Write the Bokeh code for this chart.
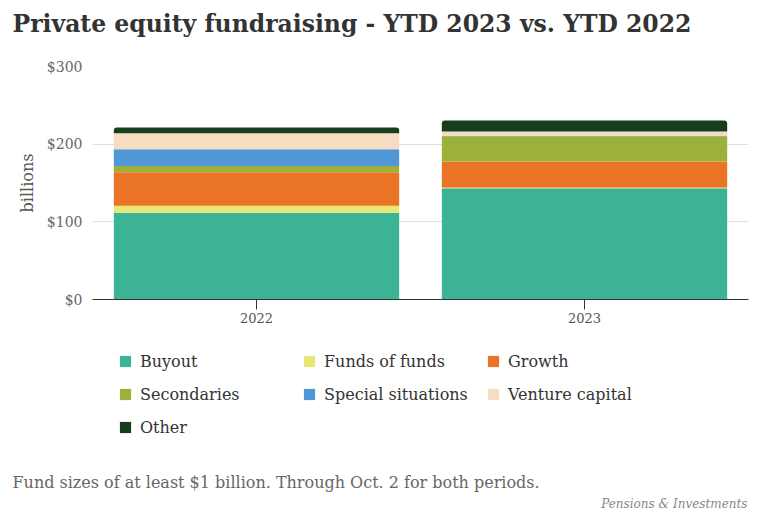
from bokeh.plotting import figure
from bokeh.layouts import column
from bokeh.models import (ColumnDataSource, Legend, LegendItem, Title,
                          NumeralTickFormatter, FixedTicker)
from bokeh.embed import file_html
from bokeh.resources import INLINE

years = ["2022", "2023"]
categories = ["Buyout", "Funds of funds", "Growth", "Secondaries",
              "Special situations", "Venture capital", "Other"]
buyout = [111.6, 143.2]
funds_of_funds = [9.0, 0.9]
growth = [43.2, 33.5]
secondaries = [8.2, 32.6]
special_situations = [21.6, 0.6]
venture_capital = [20.3, 5.4]
other = [7.7, 14.2]
colors = ["#3cb394", "#e6e876", "#eb7326", "#9bb13a", "#5097d6", "#f6dcc0", "#163d1e"]
y_ticks = [0, 100, 200, 300]
title_text = "Private equity fundraising - YTD 2023 vs. YTD 2022"
caption_text = "Fund sizes of at least $1 billion. Through Oct. 2 for both periods."
credit_text = "Pensions & Investments"

series = [buyout, funds_of_funds, growth, secondaries, special_situations, venture_capital, other]
data = {"year": years}
for name, vals in zip(categories, series):
    data[name] = vals
source = ColumnDataSource(data)

SERIF = "DejaVu Serif"

# ---------------- chart ----------------
p = figure(x_range=years, y_range=(0, 300), width=760, height=335,
           output_backend="svg", toolbar_location=None,
           min_border_left=92, min_border_right=12, min_border_top=0, min_border_bottom=36)
p.outline_line_color = None

renderers = p.vbar_stack(categories, x="year", width=0.87, source=source,
                         color=colors, line_color=None)
renderers[-1].glyph.border_radius = (3, 3, 0, 0)

p.xgrid.grid_line_color = None
p.ygrid.grid_line_color = "#e0e0e0"
p.ygrid.ticker = FixedTicker(ticks=y_ticks)

p.yaxis.ticker = FixedTicker(ticks=y_ticks)
p.yaxis.formatter = NumeralTickFormatter(format="$0")
p.yaxis.axis_line_color = None
p.yaxis.major_tick_line_color = None
p.yaxis.minor_tick_line_color = None
p.yaxis.major_label_text_font = SERIF
p.yaxis.major_label_text_font_size = "14px"
p.yaxis.major_label_text_color = "#666666"
p.yaxis.major_label_standoff = 4
p.yaxis.axis_label = "billions"
p.yaxis.axis_label_text_font = SERIF
p.yaxis.axis_label_text_font_size = "16px"
p.yaxis.axis_label_text_font_style = "normal"
p.yaxis.axis_label_text_color = "#555555"
p.yaxis.axis_label_standoff = 7

p.xaxis.axis_line_color = "#333333"
p.xaxis.axis_line_width = 1.2
p.xaxis.major_tick_line_color = "#333333"
p.xaxis.major_tick_out = 10
p.xaxis.major_tick_in = 0
p.xaxis.major_label_text_font = SERIF
p.xaxis.major_label_text_font_size = "13px"
p.xaxis.major_label_text_color = "#555555"
p.xaxis.major_label_standoff = 3

spacer = Title(text=" ", text_font=SERIF, text_font_size="10px", standoff=5)
p.add_layout(spacer, "above")
title = Title(text=title_text, text_font=SERIF, text_font_size="23.5px",
              text_font_style="bold", text_color="#333333", offset=-80,
              standoff=18, vertical_align="top")
p.add_layout(title, "above")

# ---------------- legend + notes ----------------
q = figure(x_range=years, y_range=(-2, -1), width=760, height=178,
           output_backend="svg", toolbar_location=None,
           x_axis_location=None, y_axis_location=None,
           min_border_left=92, min_border_right=12, min_border_top=0, min_border_bottom=0)
q.outline_line_color = None
q.grid.visible = False

legend_renderers = q.vbar_stack(categories, x="year", width=0.87, source=source,
                                color=colors, line_color=None, visible=False)
for r in legend_renderers:
    r.glyph.border_radius = 2
items = [LegendItem(label=c, renderers=[r]) for c, r in zip(categories, legend_renderers)]
legend = Legend(items=items, ncols=3, orientation="horizontal", location=(26, 34),
                label_text_font=SERIF, label_text_font_size="16px",
                label_text_color="#333333", glyph_width=14, glyph_height=14,
                label_width=149, label_height=20, label_standoff=8,
                spacing=13, padding=0, margin=0, border_line_color=None,
                background_fill_alpha=0, inactive_fill_alpha=0)
q.add_layout(legend, "center")

caption = Title(text=caption_text, text_font=SERIF, text_font_size="16px",
                text_font_style="normal", text_color="#666666", offset=-80,
                standoff=1, vertical_align="middle")
q.add_layout(caption, "below")
credit = Title(text=credit_text, align="right", text_font=SERIF, text_font_size="12px",
               text_font_style="italic", text_color="#888888", offset=1,
               standoff=4, vertical_align="middle")
q.add_layout(credit, "below")

layout = column(p, q, spacing=0)
open("out.html", "w").write(file_html(layout, INLINE))
